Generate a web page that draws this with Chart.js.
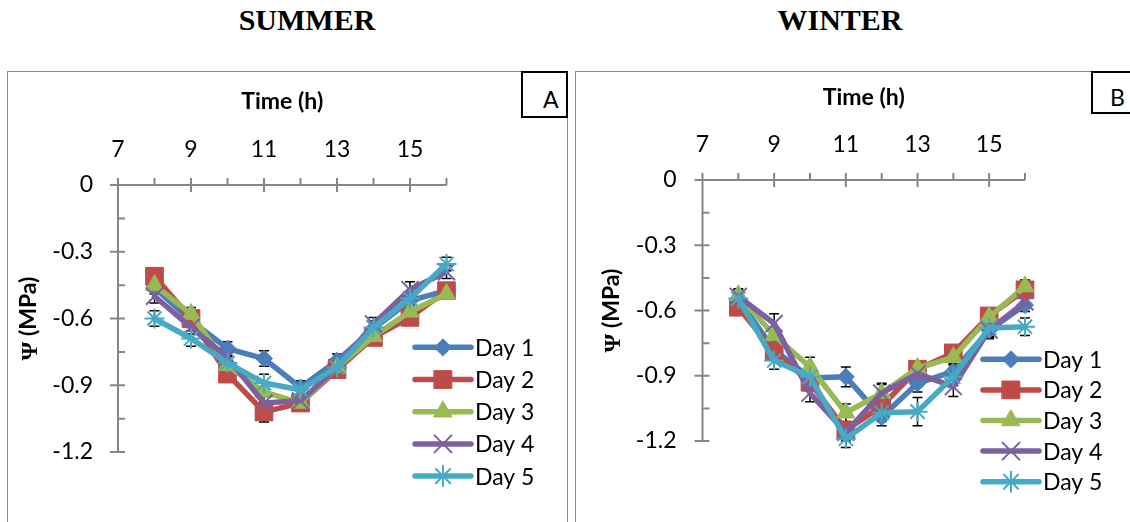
<!DOCTYPE html>
<html>
<head>
<meta charset="utf-8">
<script src="https://cdn.jsdelivr.net/npm/chart.js@4.4.1/dist/chart.umd.min.js"></script>
<style>
  body { margin: 0; width: 1130px; height: 522px; background: #fff; position: relative; overflow: hidden; }
  .title { position: absolute; top: 5px; width: 300px; text-align: center; font: bold 30px "Liberation Serif", serif; line-height: 30px; color: #000; }
  .panel { position: absolute; top: 71px; height: 520px; box-sizing: border-box; border: 1px solid #8c8c8c; }
  .tag { position: absolute; top: 71px; box-sizing: border-box; border: 2px solid #000; background: #fff; font: 23px Lato, sans-serif; line-height: 27px; color: #000; z-index: 2; }
  canvas { position: absolute; z-index: 1; }
</style>
</head>
<body>
<div class="title" style="left:157px">SUMMER</div>
<div class="title" style="left:690px">WINTER</div>
<div class="panel" style="left:7px; width:561px"></div>
<div class="panel" style="left:575px; width:600px"></div>
<div class="tag" style="left:521px; width:47px; height:47px; padding:13px 0 0 20px">A</div>
<div class="tag" style="left:1091px; width:60px; height:43px; padding:11px 0 0 17px">B</div>
<canvas id="summer-chart" width="558" height="450" style="left:8px; top:72px"></canvas>
<canvas id="winter-chart" width="554" height="450" style="left:576px; top:72px"></canvas>
<script>
// Data
const hours = [8, 9, 10, 11, 12, 13, 14, 15, 16];
const dayLabels = ['Day 1', 'Day 2', 'Day 3', 'Day 4', 'Day 5'];
const xTickLabels = ['7', '9', '11', '13', '15'];
const yTickLabels = ['0', '-0.3', '-0.6', '-0.9', '-1.2'];

// Summer (A)
const summerDay1 = [-0.46, -0.61, -0.735, -0.78, -0.91, -0.79, -0.645, -0.52, -0.475];
const summerDay2 = [-0.41, -0.60, -0.85, -1.02, -0.98, -0.83, -0.685, -0.595, -0.475];
const summerDay3 = [-0.45, -0.58, -0.81, -0.93, -0.98, -0.82, -0.68, -0.57, -0.49];
const summerDay4 = [-0.50, -0.64, -0.775, -0.98, -0.97, -0.82, -0.625, -0.47, -0.39];
const summerDay5 = [-0.60, -0.69, -0.80, -0.89, -0.92, -0.82, -0.64, -0.51, -0.355];
const summerErr1 = [0.03, 0.03, 0.03, 0.035, 0.03, 0.03, 0.025, 0.03, 0.02];
const summerErr2 = [0.03, 0.035, 0.03, 0.045, 0.035, 0.03, 0.03, 0.02, 0.02];
const summerErr3 = [0.02, 0.03, 0.03, 0.04, 0.03, 0.03, 0.03, 0.02, 0.02];
const summerErr4 = [0.03, 0.03, 0.03, 0.03, 0.03, 0.03, 0.03, 0.035, 0.03];
const summerErr5 = [0.035, 0.035, 0.03, 0.04, 0.035, 0.03, 0.03, 0.03, 0.03];

// Winter (B)
const winterDay1 = [-0.55, -0.78, -0.91, -0.905, -1.09, -0.935, -0.88, -0.69, -0.575];
const winterDay2 = [-0.585, -0.79, -0.93, -1.15, -1.04, -0.87, -0.795, -0.625, -0.505];
const winterDay3 = [-0.53, -0.715, -0.86, -1.07, -0.98, -0.865, -0.815, -0.63, -0.49];
const winterDay4 = [-0.535, -0.66, -0.98, -1.16, -0.98, -0.89, -0.95, -0.69, -0.56];
const winterDay5 = [-0.545, -0.83, -0.905, -1.19, -1.07, -1.065, -0.905, -0.68, -0.675];
const winterErr1 = [0.03, 0.04, 0.04, 0.045, 0.04, 0.04, 0.03, 0.03, 0.03];
const winterErr2 = [0.03, 0.04, 0.04, 0.04, 0.04, 0.03, 0.03, 0.03, 0.03];
const winterErr3 = [0.03, 0.04, 0.045, 0.04, 0.045, 0.03, 0.03, 0.03, 0.03];
const winterErr4 = [0.03, 0.045, 0.04, 0.04, 0.04, 0.03, 0.045, 0.04, 0.03];
const winterErr5 = [0.03, 0.04, 0.04, 0.04, 0.04, 0.065, 0.04, 0.045, 0.04];

// Series look (Excel 2007 palette)
const dayColors = ['#4A7EBB', '#BE4B48', '#98B954', '#7D60A0', '#46AAC5'];
const dayPoints = ['rectRot', 'rect', 'triangle', 'crossRot', 'star'];
const dayRadius = [8.5, 12.5, 10.5, 12, 10];
const dayPointBorder = [1, 1, 1, 2, 2];

Chart.defaults.font.family = 'Lato, sans-serif';
Chart.defaults.font.size = 23;
Chart.defaults.color = '#000';

function makeDatasets(series, errors) {
  return series.map((values, i) => ({
    label: dayLabels[i],
    data: hours.map((h, j) => ({ x: h, y: values[j] })),
    errorBars: errors[i],
    borderColor: dayColors[i],
    backgroundColor: dayColors[i],
    borderWidth: 5.5,
    borderJoinStyle: 'round',
    borderCapStyle: 'round',
    tension: 0,
    pointStyle: dayPoints[i],
    pointRadius: dayRadius[i],
    pointBorderWidth: dayPointBorder[i],
    pointBackgroundColor: dayColors[i],
    pointBorderColor: dayColors[i],
    order: 4 - i,
    clip: false
  }));
}

// Axis lines and tick marks, Excel style (major ticks cross the axis)
const axisMarks = {
  id: 'axisMarks',
  beforeDatasetsDraw(chart) {
    const { ctx, scales: { x, y } } = chart;
    const x0 = x.getPixelForValue(x.min), x1 = x.getPixelForValue(x.max);
    const y0 = y.getPixelForValue(0), y1 = y.getPixelForValue(y.min);
    ctx.save();
    ctx.strokeStyle = '#868686';
    ctx.lineWidth = 2;
    ctx.beginPath();
    ctx.moveTo(x0, y0); ctx.lineTo(x1, y0);
    ctx.moveTo(x0, y0); ctx.lineTo(x0, y1);
    x.ticks.forEach(t => {
      const px = x.getPixelForValue(t.value);
      ctx.moveTo(px, y0 - 7);
      ctx.lineTo(px, t.label !== '' ? y0 + 7 : y0);
    });
    y.ticks.forEach(t => {
      const py = y.getPixelForValue(t.value);
      ctx.moveTo(t.label !== '' ? x0 - 8 : x0, py);
      ctx.lineTo(x0 + 7, py);
    });
    ctx.stroke();
    ctx.restore();
  }
};

// Black error bars, drawn under the series so only the caps peek out
const errorBars = {
  id: 'errorBars',
  beforeDatasetsDraw(chart) {
    const { ctx, scales: { y } } = chart;
    ctx.save();
    ctx.strokeStyle = '#000';
    ctx.lineWidth = 1.5;
    ctx.beginPath();
    chart.data.datasets.forEach((ds, i) => {
      const meta = chart.getDatasetMeta(i);
      meta.data.forEach((pt, j) => {
        const v = ds.data[j].y, e = ds.errorBars[j];
        const top = y.getPixelForValue(v + e), bot = y.getPixelForValue(v - e);
        ctx.moveTo(pt.x, top); ctx.lineTo(pt.x, bot);
        ctx.moveTo(pt.x - 5, top); ctx.lineTo(pt.x + 5, top);
        ctx.moveTo(pt.x - 5, bot); ctx.lineTo(pt.x + 5, bot);
      });
    });
    ctx.stroke();
    ctx.restore();
  }
};

// Y title: serif Psi followed by sans "(MPa)", rotated
const yTitle = {
  id: 'yTitle',
  afterDraw(chart, args, opts) {
    const { ctx, chartArea } = chart;
    const cy = (chartArea.top + chartArea.bottom) / 2;
    const sym = 'Ψ', rest = ' (MPa)';
    ctx.save();
    ctx.translate(opts.x, cy);
    ctx.rotate(-Math.PI / 2);
    ctx.fillStyle = '#000';
    ctx.textBaseline = 'middle';
    ctx.textAlign = 'left';
    ctx.font = 'bold 24px "Liberation Serif", serif';
    const w1 = ctx.measureText(sym).width;
    ctx.font = 'bold 23px Lato, sans-serif';
    const w2 = ctx.measureText(rest).width;
    const start = -(w1 + w2) / 2;
    ctx.font = 'bold 24px "Liberation Serif", serif';
    ctx.fillText(sym, start, 2);
    ctx.font = 'bold 23px Lato, sans-serif';
    ctx.fillText(rest, start + w1, 0);
    ctx.restore();
  }
};

// Legend: line with marker, then label
const dayLegend = {
  id: 'dayLegend',
  afterDraw(chart, args, opts) {
    const { ctx } = chart;
    ctx.save();
    chart.data.datasets.forEach((ds, i) => {
      const ly = opts.top + i * opts.step;
      ctx.strokeStyle = ds.borderColor;
      ctx.lineWidth = 5.5;
      ctx.lineCap = 'round';
      ctx.beginPath();
      ctx.moveTo(opts.x1, ly); ctx.lineTo(opts.x2, ly);
      ctx.stroke();
      ctx.fillStyle = ds.pointBackgroundColor;
      ctx.strokeStyle = ds.pointBorderColor;
      ctx.lineWidth = ds.pointBorderWidth;
      Chart.helpers.drawPoint(ctx, {
        pointStyle: ds.pointStyle, rotation: 0,
        radius: ds.pointRadius, borderWidth: ds.pointBorderWidth
      }, (opts.x1 + opts.x2) / 2, ly);
      ctx.fillStyle = '#000';
      ctx.font = '23px Lato, sans-serif';
      ctx.textBaseline = 'middle';
      ctx.textAlign = 'left';
      ctx.fillText(ds.label, opts.textX, ly + 1);
    });
    ctx.restore();
  }
};

function makeChart(id, series, errors, g) {
  const ctx = document.getElementById(id).getContext('2d');
  return new Chart(ctx, {
    type: 'line',
    data: { datasets: makeDatasets(series, errors) },
    plugins: [axisMarks, errorBars, yTitle, dayLegend],
    options: {
      responsive: false,
      animation: false,
      devicePixelRatio: 1,
      layout: { padding: { left: 0, top: 0, right: g.padRight, bottom: g.padBottom } },
      scales: {
        x: {
          type: 'linear',
          position: 'top',
          min: 7,
          max: 16,
          ticks: {
            stepSize: 1,
            autoSkip: false,
            maxRotation: 0,
            padding: 22,
            callback: v => xTickLabels.includes(String(v)) ? String(v) : ''
          },
          grid: { display: false, drawTicks: false },
          border: { display: false },
          title: { display: true, text: 'Time (h)', font: { weight: 'bold', size: 23 }, padding: { top: g.xTitlePad, bottom: 0 } },
          afterFit: s => { s.height = g.xHeight; }
        },
        y: {
          min: -1.2,
          max: 0,
          ticks: {
            stepSize: 0.15,
            autoSkip: false,
            padding: g.yTickPad,
            callback: v => {
              const s = String(Number(v.toFixed(2)));
              return yTickLabels.includes(s) ? s : '';
            }
          },
          grid: { display: false, drawTicks: false },
          border: { display: false },
          title: { display: false },
          afterFit: s => { s.width = g.yWidth; }
        }
      },
      plugins: {
        legend: { display: false },
        tooltip: { enabled: false },
        yTitle: { x: g.yTitleX },
        dayLegend: g.legend
      }
    }
  });
}

// Summer chart (A)
const summerChart = makeChart('summer-chart',
  [summerDay1, summerDay2, summerDay3, summerDay4, summerDay5],
  [summerErr1, summerErr2, summerErr3, summerErr4, summerErr5],
  { yWidth: 110, xHeight: 113, padRight: 119.5, padBottom: 70, xTitlePad: 16, yTitleX: 21, yTickPad: 25,
    legend: { x1: 407, x2: 463, textX: 467, top: 275.3, step: 32.2 } });

// Winter chart (B)
const winterChart = makeChart('winter-chart',
  [winterDay1, winterDay2, winterDay3, winterDay4, winterDay5],
  [winterErr1, winterErr2, winterErr3, winterErr4, winterErr5],
  { yWidth: 126.5, xHeight: 108, padRight: 105, padBottom: 81, xTitlePad: 12, yTitleX: 36, yTickPad: 26,
    legend: { x1: 407, x2: 463, textX: 467, top: 287.3, step: 30.6 } });
</script>
</body>
</html>
